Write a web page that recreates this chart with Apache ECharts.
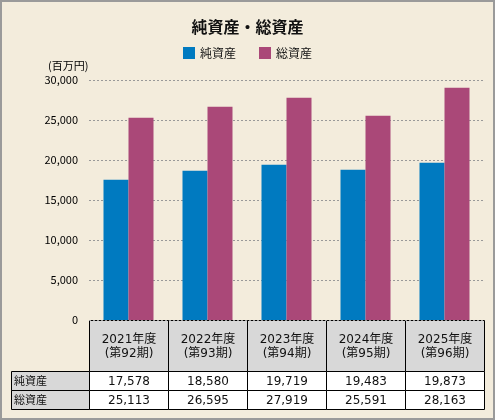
<!DOCTYPE html>
<html>
<head>
<meta charset="utf-8">
<script src="https://cdn.jsdelivr.net/npm/echarts@6/dist/echarts.min.js"></script>
<style>
html,body{margin:0;padding:0;background:#F3ECDC;}
#c{width:495px;height:420px;}
</style>
</head>
<body>
<div id="c"></div>
<script>
// ---- data ----
const categories = ['2021年度', '2022年度', '2023年度', '2024年度', '2025年度'];
const periods = ['(第92期)', '(第93期)', '(第94期)', '(第95期)', '(第96期)'];
const seriesNames = ['純資産', '総資産'];
// bar heights as drawn in the picture
const netBar = [17540, 18660, 19410, 18790, 19660];
const totalBar = [25290, 26660, 27790, 25540, 29040];
// values printed in the table
const netTable = [17578, 18580, 19719, 19483, 19873];
const totalTable = [25113, 26595, 27919, 25591, 28163];
const unitLabel = '(百万円)';
const titleText = '純資産・総資産';

// ---- layout ----
const W = 495, H = 420;
const gridLeft = 89, gridRight = 484, gridTop = 80, gridBottom = 320;
const colW = (gridRight - gridLeft) / categories.length;
const headH = 51, rowH = 19, labelLeft = 11;
const font = '"Noto Sans CJK JP", "Noto Sans", sans-serif';
const wideFont = '"DejaVu Sans", "Noto Sans CJK JP", sans-serif';
const fmt = v => v.toLocaleString('en-US');

const graphic = [];
// outer border
graphic.push({type:'rect', shape:{x:1, y:1, width:W-2, height:H-2}, style:{fill:'none', stroke:'#9A9A9A', lineWidth:2}, z:100});
// unit label
graphic.push({type:'text', x:48, y:60, style:{text:unitLabel, font:'11px ' + font, fill:'#000'}});
// header row
categories.forEach((c, i) => {
  const x = Math.round(gridLeft + i * colW) + 0.5;
  const x2 = Math.round(gridLeft + (i + 1) * colW) + 0.5;
  graphic.push({type:'rect', shape:{x:x, y:gridBottom + 0.5, width:x2 - x, height:headH}, style:{fill:'#D8D8D8', stroke:'#000', lineWidth:1}});
  graphic.push({type:'text', x:(x + x2) / 2, y:gridBottom + headH / 2 + 1, style:{text:c + '\n' + periods[i], font:'12px ' + wideFont, fill:'#111', align:'center', verticalAlign:'middle', lineHeight:14}});
});
// data rows
const rows = [[seriesNames[0], netTable], [seriesNames[1], totalTable]];
rows.forEach((r, ri) => {
  const y = gridBottom + headH + ri * rowH + 0.5;
  graphic.push({type:'rect', shape:{x:labelLeft + 0.5, y:y, width:gridLeft - labelLeft, height:rowH}, style:{fill:'#D8D8D8', stroke:'#000', lineWidth:1}});
  graphic.push({type:'text', x:labelLeft + 3, y:y + rowH / 2, style:{text:r[0], font:'11px ' + font, fill:'#111', verticalAlign:'middle'}});
  r[1].forEach((v, i) => {
    const x = Math.round(gridLeft + i * colW) + 0.5;
    const x2 = Math.round(gridLeft + (i + 1) * colW) + 0.5;
    graphic.push({type:'rect', shape:{x:x, y:y, width:x2 - x, height:rowH}, style:{fill:'#FFFFFF', stroke:'#000', lineWidth:1}});
    graphic.push({type:'text', x:(x + x2) / 2, y:y + rowH / 2 + 0.5, style:{text:fmt(v), font:'12px ' + wideFont, fill:'#111', align:'center', verticalAlign:'middle'}});
  });
});

const chart = echarts.init(document.getElementById('c'), null, {renderer:'canvas'});
chart.setOption({
  backgroundColor:'#F3ECDC',
  animation:false,
  textStyle:{fontFamily:font},
  title:{text:titleText, left:'center', top:14, textStyle:{fontSize:16, fontWeight:'bold', color:'#111', fontFamily:font}},
  legend:{top:42, left:'center', itemWidth:12, itemHeight:12, itemGap:23, icon:'rect',
    textStyle:{fontSize:12, color:'#111', fontFamily:font}, data:seriesNames},
  grid:{left:gridLeft, right:W - gridRight, top:gridTop, bottom:H - gridBottom, containLabel:false},
  xAxis:{type:'category', data:categories, axisLine:{show:false}, axisTick:{show:false}, axisLabel:{show:false}},
  yAxis:{type:'value', min:0, max:30000, interval:5000,
    axisLine:{show:false}, axisTick:{show:false},
    axisLabel:{fontSize:11, color:'#000', margin:11, fontFamily:font, formatter:v => fmt(v)},
    splitLine:{lineStyle:{type:[2,2], color:'#999', width:1}}},
  series:[
    {name:seriesNames[0], type:'bar', data:netBar, barWidth:25, barGap:'0%', itemStyle:{color:'#007AC0'}},
    {name:seriesNames[1], type:'bar', data:totalBar, barWidth:25, barGap:'0%', itemStyle:{color:'#AA4878'}}
  ],
  graphic:graphic
});
</script>
</body>
</html>
